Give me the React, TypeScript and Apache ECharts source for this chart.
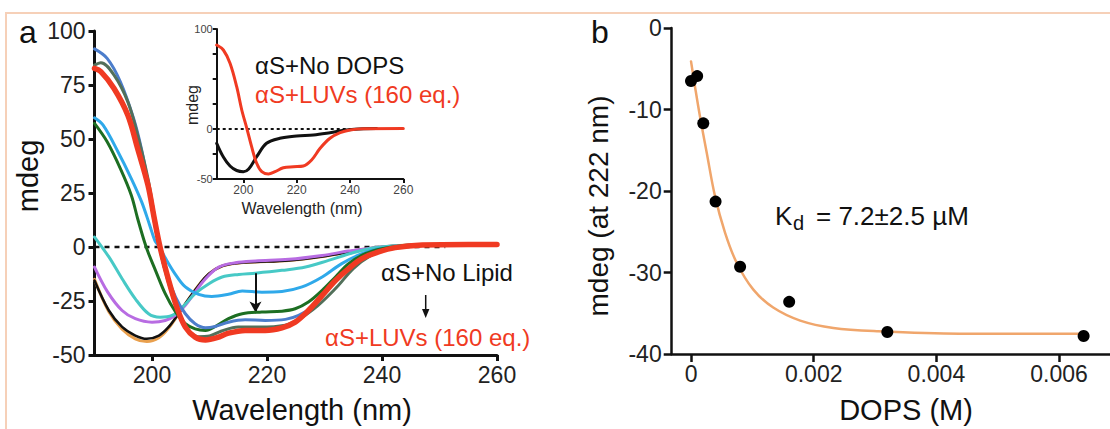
import React, { useEffect, useRef } from "react";
import * as echarts from "echarts";

const FONT = "'Liberation Sans', Arial, Helvetica, sans-serif";

// ---------- Panel a (main CD spectra) ----------
const mainXTicks = [200, 220, 240, 260];
const zeroLineMain = [[190, 0], [251, 0]];

const orangeCurve = [[190, -15], [192.5, -30], [194.8, -38], [197.1, -42.5], [199.1, -43.8], [201.2, -42], [202.9, -37.5], [204.6, -31], [206.4, -24], [208.1, -17.8], [209.9, -12.4], [212.2, -8.8], [215.1, -7.4], [218, -7], [223.8, -6.2], [228.4, -4.9], [232.5, -3.1], [236.5, -1.2], [240, 0], [247, 1.2], [255, 1.2], [260, 1.2]];
const blackCurve = [[190, -15.5], [192.5, -29.4], [194.8, -37], [197.1, -41], [199.1, -42.5], [201.2, -41], [202.9, -37], [204.6, -30.9], [206.4, -24], [208.1, -17.8], [209.9, -12.4], [212.2, -8.8], [215.1, -7.4], [218, -7], [223.8, -6.2], [228.4, -4.9], [232.5, -3.1], [236.5, -1.2], [240, 0], [247, 1.2], [255, 1.2], [260, 1.2]];
const purpleCurve = [[190, -9.3], [192.3, -20.9], [194.8, -29.4], [197.1, -33.2], [200, -34.8], [202.3, -34], [204, -31.7], [205.8, -27], [207.5, -20.9], [209.3, -14.7], [211.6, -9.3], [214.5, -7.3], [218, -6.5], [223.8, -5.7], [229.6, -3.9], [234.2, -1.9], [238.8, -0.3], [245, 0.8], [260, 1]];
const turquoiseCurve = [[190, 4.6], [192.5, -4.6], [194.8, -14.7], [197.1, -24], [199.4, -30.9], [201.4, -32.5], [203.5, -31.7], [205.2, -28.1], [207.5, -21.6], [209.9, -17], [212.2, -13.9], [215.1, -12.7], [218, -12.1], [222.6, -10.8], [226.7, -9.3], [230.7, -6.2], [234.8, -2.8], [238.8, -0.3], [245, 0.8], [260, 1]];
const skyCurve = [[190, 59.8], [191.5, 56.4], [194.1, 44], [196.4, 31.7], [198.2, 20.9], [199.6, 10.1], [200.5, 3], [201.3, 0], [202.3, -5], [204, -12.4], [205.8, -18.5], [208.1, -21.9], [210.4, -22.9], [213.3, -21.9], [215.7, -20.4], [219.1, -20.9], [222.6, -20.6], [226.1, -18.5], [229.6, -13.9], [233, -7.7], [236.5, -3.1], [239.4, -0.8], [245, 0.6], [260, 1]];
const greenCurve = [[190, 57.2], [192.2, 48.7], [194.5, 36.3], [196.4, 24], [197.5, 13.2], [198.7, 2.3], [199.4, -3], [200.6, -10.8], [202.3, -21.6], [204.1, -30.1], [205.8, -35.5], [207.5, -37.9], [209.3, -38.6], [211, -36.8], [213.3, -33.2], [215.7, -30.9], [219.1, -30.1], [222.6, -29.7], [224.9, -28.6], [227.2, -25.5], [229.6, -20.1], [231.9, -13.9], [234.2, -7.7], [237.1, -3.1], [240, -0.8], [244, 0.6], [260, 1]];
const steelCurve = [[190, 91.7], [192.2, 87.3], [194.5, 76.5], [196.8, 59.5], [198.2, 45], [199.4, 28], [200.5, 10], [201.3, 0], [202.3, -10.8], [204.1, -23.2], [205.8, -30.9], [207.5, -35.5], [209.3, -37.4], [211, -36.8], [213.3, -34.8], [216.2, -33.7], [219.7, -34], [223.2, -33.5], [225.5, -31.7], [227.8, -27.8], [230.1, -20.9], [232.5, -13.9], [235.4, -7], [238.3, -3.1], [241.2, -0.8], [244.6, 0.5], [260, 1]];
const grayGreenCurve = [[190, 84.2], [191.1, 85.3], [193.4, 79.6], [195.8, 67.2], [197.5, 51.8], [199.3, 31.7], [200.4, 14.7], [201.2, 3], [202, -8], [203.5, -22], [205, -33], [206.5, -39], [208, -41.5], [210, -41.2], [212, -39], [215, -37], [220, -37], [224, -35.5], [228, -29], [232, -19], [235, -10], [238, -4], [241, -1], [245, 0.5], [260, 1]];
const redCurve = [[190, 82.7], [191.1, 81.2], [193.4, 73.4], [195.8, 61], [197.5, 45.6], [199.3, 28.6], [200.4, 13.2], [201.4, 0], [202.9, -15.5], [204.3, -27.8], [205.8, -37.1], [207.5, -41.7], [209.3, -43], [211.3, -42], [213.3, -39.9], [216.2, -38.6], [219.7, -38.6], [222.6, -37.4], [224.9, -34.8], [227.2, -29.4], [229.6, -22.4], [231.9, -15.5], [234.2, -10], [236.5, -5.4], [239.4, -2.3], [242.3, -0.3], [247, 0.9], [255, 1.2], [260, 1.2]];
const arrowMain = [[218, -12.2], [218, -30.3]];

// ---------- Inset ----------
const insetXTicks = [200, 220, 240, 260];
const insetYLabels = [-50, 0, 100];
const insetYTicks = [-50, -25, 0, 25, 50, 75, 100];
const zeroLineInset = [[190, 0], [251, 0]];
const insetBlack = [[190, -14.3], [192.5, -28], [195, -37], [197.5, -41.5], [200, -42.7], [202, -40], [205, -27.7], [208.7, -14.3], [213.7, -9.3], [220, -7], [226.3, -6], [232.5, -3.7], [238.7, -1], [245, 0.3], [250, 0.5]];
const insetRed = [[190, 84], [192.5, 79], [195, 65.7], [197.5, 42.3], [199.4, 19], [201.3, 0.7], [203.1, -17.7], [205, -34.3], [206.9, -42.7], [209.4, -45], [211.9, -42.7], [215, -38.7], [218.8, -37.7], [222.5, -37], [225.6, -31], [228.8, -19.3], [232.5, -9.3], [236.3, -3.7], [240, -1], [245, 0.3], [260, 0.5]];

// ---------- Panel b ----------
const dopsTicks = [0, 0.002, 0.004, 0.006];
const dopsX = [0, 0.0001, 0.0002, 0.0004, 0.0008, 0.0016, 0.0032, 0.0064];
const mdeg222 = [-6.5, -5.9, -11.7, -21.3, -29.3, -33.6, -37.3, -37.8];
const fitCurve = [[0, -4.1], [0.000065, -7.2], [0.000147, -10.9], [0.000256, -15.3], [0.00039, -20.6], [0.000554, -25.1], [0.000744, -28.8], [0.001016, -32.1], [0.00134, -34.3], [0.00178, -35.9], [0.00232, -36.8], [0.00303, -37.2], [0.00438, -37.5], [0.0064, -37.5]];

const RED = "#F03A22";

function line(data: number[][], color: string, width: number, axis: number, z = 2, extra: any = {}) {
  return {
    type: "line",
    data,
    xAxisIndex: axis,
    yAxisIndex: axis,
    showSymbol: false,
    symbol: "none",
    smooth: 0.35,
    silent: true,
    z,
    lineStyle: { color, width, cap: "round", join: "round" },
    ...extra,
  };
}

function txt(text: string, x: number, y: number, size: number, fill = "#111", align = "left", rotation = 0) {
  return {
    type: "text",
    x,
    y,
    rotation,
    z: 10,
    style: {
      text,
      fill,
      font: `${size}px ${FONT}`,
      textAlign: align,
      textVerticalAlign: "middle",
    },
  };
}

export default function App() {
  const ref = useRef<HTMLDivElement>(null);
  useEffect(() => {
    const chart = echarts.init(ref.current!, null, { renderer: "svg" });
    const axisCommon = (w: number, tickLen: number) => ({
      axisLine: { show: true, onZero: false, lineStyle: { color: "#111", width: w } },
      axisTick: { show: true, length: tickLen, lineStyle: { color: "#111", width: w } },
      splitLine: { show: false },
    });
    const option: any = {
      animation: false,
      backgroundColor: "#ffffff",
      textStyle: { fontFamily: FONT },
      grid: [
        { left: 94.5, top: 31, width: 402.5, height: 324 },
        { left: 216.7, top: 29, width: 186.6, height: 150 },
        { left: 671.7, top: 28, width: 438.3, height: 326 },
      ],
      xAxis: [
        {
          type: "value", gridIndex: 0, min: 190, max: 260,
          ...axisCommon(3, 6),
          axisTick: { show: true, length: 6, customValues: mainXTicks, lineStyle: { color: "#111", width: 3 } },
          axisLabel: { customValues: mainXTicks, fontSize: 23, color: "#222", margin: 8, fontFamily: FONT },
        },
        {
          type: "value", gridIndex: 1, min: 190, max: 260,
          ...axisCommon(2, 4),
          axisTick: { show: true, length: 4, customValues: insetXTicks, lineStyle: { color: "#111", width: 2 } },
          axisLabel: { customValues: insetXTicks, fontSize: 12, color: "#444", margin: 5, fontFamily: FONT },
        },
        {
          type: "value", gridIndex: 2, min: -0.000315, max: 0.00683,
          ...axisCommon(2.5, 8),
          axisTick: { show: true, length: 8, customValues: dopsTicks, lineStyle: { color: "#111", width: 2.5 } },
          axisLabel: {
            customValues: dopsTicks, fontSize: 23, color: "#222", margin: 8, fontFamily: FONT,
            formatter: (v: number) => (v === 0 ? "0" : v.toFixed(3)),
          },
        },
      ],
      yAxis: [
        {
          type: "value", gridIndex: 0, min: -50, max: 100, interval: 25,
          ...axisCommon(3, 6),
          axisLabel: { fontSize: 23, color: "#222", margin: 9, fontFamily: FONT },
        },
        {
          type: "value", gridIndex: 1, min: -50, max: 100, interval: 25,
          ...axisCommon(2, 4),
          axisTick: { show: true, length: 4, customValues: insetYTicks, lineStyle: { color: "#111", width: 2 } },
          axisLabel: { customValues: insetYLabels, fontSize: 11, color: "#444", margin: 4, fontFamily: FONT },
        },
        {
          type: "value", gridIndex: 2, min: -40, max: 0, interval: 10,
          ...axisCommon(2.5, 8),
          axisLabel: { fontSize: 23, color: "#222", margin: 10, fontFamily: FONT },
        },
      ],
      series: [
        line(zeroLineMain, "#111", 2.5, 0, 1, { smooth: false, lineStyle: { color: "#111", width: 2.5, type: [5, 5] } }),
        line(orangeCurve, "#E9A04E", 3, 0, 2),
        line(blackCurve, "#111111", 2.5, 0, 3, {
          markLine: {
            silent: true,
            symbol: ["none", "arrow"],
            symbolSize: [9, 11],
            label: { show: false },
            lineStyle: { color: "#111", width: 2, type: "solid" },
            data: [[{ coord: arrowMain[0] }, { coord: arrowMain[1] }]],
          },
        }),
        line(purpleCurve, "#B86CE2", 3, 0, 4),
        line(turquoiseCurve, "#47C9C6", 3, 0, 4),
        line(skyCurve, "#2FA9EA", 3, 0, 4),
        line(greenCurve, "#1D6E22", 3, 0, 5),
        line(steelCurve, "#4C7DCB", 3, 0, 5),
        line(grayGreenCurve, "#52705A", 3, 0, 5),
        line(redCurve, RED, 5.5, 0, 6),

        line(zeroLineInset, "#111", 2, 1, 1, { smooth: false, lineStyle: { color: "#111", width: 2, type: [3, 3] } }),
        line(insetBlack, "#111111", 3, 1, 3),
        line(insetRed, RED, 3, 1, 4),

        line(fitCurve, "#F0A66C", 2.5, 2, 2),
        {
          type: "scatter",
          xAxisIndex: 2,
          yAxisIndex: 2,
          data: dopsX.map((x, i) => [x, mdeg222[i]]),
          symbol: "circle",
          symbolSize: 12,
          itemStyle: { color: "#000", opacity: 1 },
          silent: true,
          z: 5,
        },
      ],
      graphic: [
        {
          type: "polyline",
          z: 0,
          shape: { points: [[6, 429], [6, 13], [1110, 13]] },
          style: { stroke: "#F6D0B8", lineWidth: 2, fill: "none" },
        },
        txt("a", 19, 32, 32),
        txt("b", 591, 32, 32),
        txt("mdeg", 28, 176, 29, "#111", "center", Math.PI / 2),
        txt("Wavelength (nm)", 302, 410, 29, "#111", "center"),
        txt("mdeg (at 222 nm)", 598, 206, 28, "#111", "center", Math.PI / 2),
        txt("DOPS (M)", 906, 410, 29, "#111", "center"),
        txt("mdeg", 192, 105, 16, "#222", "center", Math.PI / 2),
        txt("Wavelength (nm)", 302, 208, 16, "#222", "center"),
        txt("αS+No DOPS", 255, 65, 24, "#111"),
        txt("αS+LUVs (160 eq.)", 255, 94, 24, RED),
        txt("αS+No Lipid", 381, 272, 24, "#111"),
        txt("αS+LUVs (160 eq.)", 325, 337, 24, RED),
        {
          type: "line",
          z: 10,
          shape: { x1: 425.7, y1: 295, x2: 425.7, y2: 311 },
          style: { stroke: "#111", lineWidth: 1.5 },
        },
        {
          type: "polygon",
          z: 10,
          shape: { points: [[422, 309], [429.4, 309], [425.7, 318]] },
          style: { fill: "#111" },
        },
        txt("K", 775, 216, 26, "#111"),
        txt("d", 793, 223, 20, "#111"),
        txt("= 7.2±2.5 µM", 816, 216, 26, "#111"),
      ],
    };
    chart.setOption(option);
    return () => chart.dispose();
  }, []);
  return (
    <div
      ref={ref}
      style={{ position: "fixed", left: 0, top: 0, width: 1110, height: 429, background: "#fff" }}
    />
  );
}
